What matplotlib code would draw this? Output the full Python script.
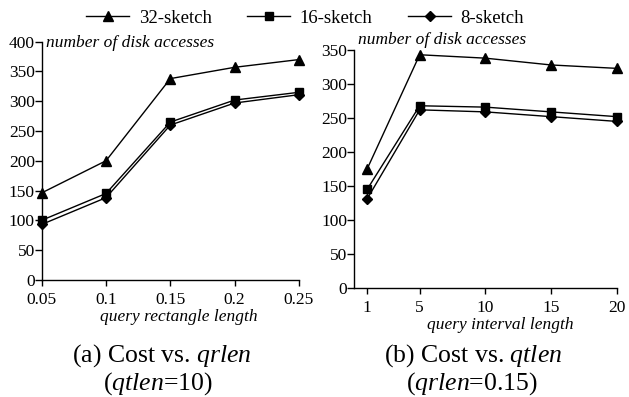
import numpy as np
import matplotlib
matplotlib.use("Agg")
import matplotlib.pyplot as plt
from matplotlib.lines import Line2D

plt.rcParams['font.family'] = ['Liberation Serif', 'DejaVu Serif']
plt.rcParams['mathtext.fontset'] = 'custom'
plt.rcParams['mathtext.rm'] = 'Liberation Serif'
plt.rcParams['mathtext.it'] = 'Liberation Serif:italic'

# (a) cost vs. query rectangle length (qtlen = 10)
qrlen = [0.05, 0.1, 0.15, 0.2, 0.25]
qrlen_32 = [146, 200, 338, 357, 370]
qrlen_16 = [100, 145, 265, 302, 315]
qrlen_8 = [93, 138, 260, 297, 311]

# (b) cost vs. query interval length (qrlen = 0.15)
qtlen = [1, 5, 10, 15, 20]
qtlen_32 = [175, 343, 338, 328, 323]
qtlen_16 = [145, 268, 266, 259, 252]
qtlen_8 = [131, 262, 259, 252, 245]

series_names = ['32-sketch', '16-sketch', '8-sketch']
markers = ['^', 's', 'D']
msizes = [7, 6, 5.5]

tick_fs = 12.5
label_fs = 12.5
caption_fs = 18.5

W, H = 629, 397
fig = plt.figure(figsize=(W / 100, H / 100), dpi=100)


def px(x, y):
    # pixel position (from top-left) to figure fraction
    return x / W, 1 - y / H


def style_axes(ax):
    for side in ['top', 'right']:
        ax.spines[side].set_visible(False)
    for side in ['left', 'bottom']:
        ax.spines[side].set_linewidth(1.0)
    ax.tick_params(axis='y', direction='out', length=5, width=1, pad=0, labelsize=tick_fs)
    ax.tick_params(axis='x', direction='out', length=4, width=1, pad=5, labelsize=tick_fs)


def draw(ax, x, ys):
    for y, m, ms in zip(ys, markers, msizes):
        ax.plot(x, y, color='black', lw=1.0, marker=m, markersize=ms,
                markerfacecolor='black', markeredgecolor='black', clip_on=False)


# left panel
ax1 = fig.add_axes([41.7 / W, 1 - 279.8 / H, (299 - 41.7) / W, (279.8 - 41.7) / H])
draw(ax1, qrlen, [qrlen_32, qrlen_16, qrlen_8])
ax1.set_xlim(0.05, 0.25)
ax1.set_ylim(0, 400)
ax1.set_xticks(qrlen)
ax1.set_xticklabels(['0.05', '0.1', '0.15', '0.2', '0.25'])
ax1.set_yticks(np.arange(0, 401, 50))
style_axes(ax1)

# right panel
ax2 = fig.add_axes([354 / W, 1 - 288 / H, (616.7 - 354) / W, (288 - 50) / H])
draw(ax2, qtlen, [qtlen_32, qtlen_16, qtlen_8])
ax2.set_xlim(0, 20)
ax2.set_ylim(0, 350)
ax2.set_xticks(qtlen)
ax2.set_yticks(np.arange(0, 351, 50))
style_axes(ax2)

# axis titles
fig.text(*px(46, 43), 'number of disk accesses', style='italic', fontsize=label_fs,
         ha='left', va='center')
fig.text(*px(358, 40), 'number of disk accesses', style='italic', fontsize=label_fs,
         ha='left', va='center')
fig.text(*px(179, 317), 'query rectangle length', style='italic', fontsize=label_fs,
         ha='center', va='center')
fig.text(*px(500, 325), 'query interval length', style='italic', fontsize=label_fs,
         ha='center', va='center')

# captions
fig.text(*px(162, 356), r'(a) Cost vs. $\mathit{qrlen}$', fontsize=caption_fs,
         ha='center', va='center')
fig.text(*px(158, 384), r'($\mathit{qtlen}$=10)', fontsize=caption_fs,
         ha='center', va='center')
fig.text(*px(473, 356), r'(b) Cost vs. $\mathit{qtlen}$', fontsize=caption_fs,
         ha='center', va='center')
fig.text(*px(472, 384), r'($\mathit{qrlen}$=0.15)', fontsize=caption_fs,
         ha='center', va='center')

# shared legend across the top
handles = [Line2D([], [], color='black', lw=1.0, marker=m, markersize=ms,
                  markerfacecolor='black', markeredgecolor='black')
           for m, ms in zip(markers, msizes)]
fig.legend(handles, series_names, loc='center', bbox_to_anchor=px(305, 18),
           ncol=3, frameon=False, fontsize=13.5, handlelength=2.3,
           handletextpad=0.5, columnspacing=1.9, borderpad=0, borderaxespad=0)

fig.savefig('out.png', dpi=100)
